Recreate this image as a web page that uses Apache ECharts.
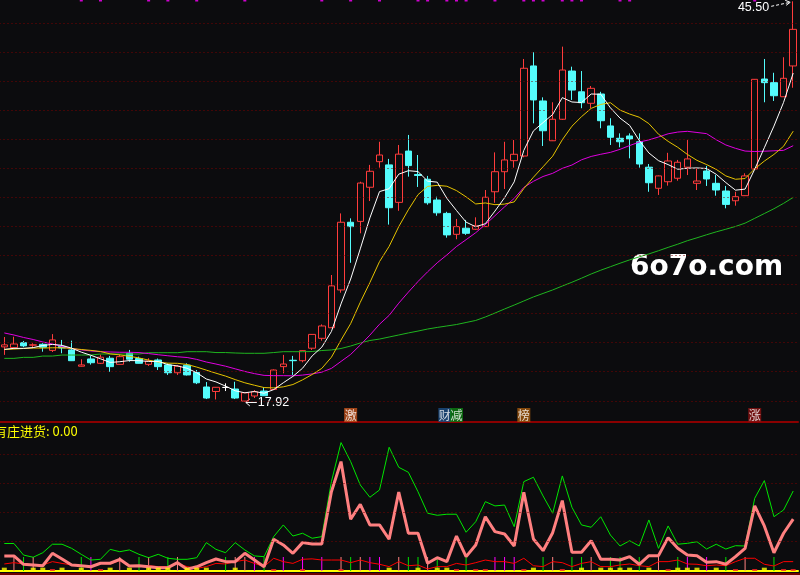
<!DOCTYPE html>
<html><head><meta charset="utf-8">
<script src="https://cdn.jsdelivr.net/npm/echarts/dist/echarts.min.js"></script>
<style>html,body{margin:0;padding:0;background:#0c0c0e;overflow:hidden}#c{width:800px;height:575px}</style>
</head><body><div id="c"></div>
<script>
// ---- data ----
// [open, close, low, high]
const kline = [
[21.71,21.85,21.16,22.39],[21.66,21.91,21.60,22.41],[22.00,21.78,21.69,22.12],[21.83,21.85,21.69,21.96],[21.89,21.69,21.38,21.96],
[21.47,22.19,21.36,22.59],[21.74,21.64,21.27,22.19],[21.50,20.76,20.74,22.14],[20.38,20.47,20.36,20.86],[20.88,20.62,20.49,21.09],
[20.58,21.00,20.53,21.18],[20.93,20.35,20.00,21.09],[20.51,21.04,20.50,21.20],[21.27,20.86,20.69,21.50],[20.91,20.58,20.57,21.04],
[20.51,20.74,20.40,20.93],[20.81,20.35,20.12,20.91],[20.47,19.93,19.78,20.58],[19.93,20.38,19.78,20.47],[20.45,19.78,19.74,20.58],
[19.95,19.24,19.15,20.12],[18.95,18.19,18.12,19.29],[18.64,18.93,18.09,18.95],[18.92,18.92,18.67,19.20],[18.81,18.19,18.12,19.31],
[17.98,18.55,17.92,18.60],[18.33,18.62,18.19,18.74],[18.67,18.35,18.33,18.93],[18.78,20.12,18.74,20.16],[20.35,20.53,19.89,21.16],
[20.79,20.76,19.78,21.09],[20.76,21.45,20.65,21.47],[21.62,22.57,21.50,22.59],[22.30,23.15,22.14,23.26],[23.03,25.91,23.01,26.66],
[25.63,30.29,25.44,30.90],[30.29,29.99,27.50,30.56],[30.35,32.99,29.53,33.08],[32.70,33.80,31.75,34.24],[34.46,34.92,34.05,35.83],
[34.24,31.29,30.13,34.65],[31.66,34.98,31.08,35.61],[35.19,34.19,33.43,36.30],[33.58,33.51,32.72,34.92],[33.25,31.63,31.50,33.48],
[31.82,30.94,30.74,32.05],[30.90,29.42,29.23,31.01],[29.46,29.99,29.12,30.52],[29.88,29.53,29.42,30.45],[29.81,30.04,29.76,30.63],
[29.99,32.01,29.97,32.51],[32.39,33.77,31.63,35.10],[33.77,34.58,32.58,35.83],[34.53,34.97,34.05,35.95],[34.85,40.89,34.76,41.53],
[41.05,38.71,37.10,41.99],[38.64,36.59,35.54,38.89],[35.90,37.38,35.88,38.55],[37.38,40.77,37.33,42.38],[40.70,39.39,38.71,41.00],
[39.27,38.52,38.14,40.70],[38.48,39.51,38.14,39.67],[39.12,37.28,36.76,39.27],[36.92,36.14,35.61,37.45],[36.07,35.83,35.45,36.41],
[36.23,36.02,34.69,36.41],[35.83,34.30,34.05,36.41],[34.08,33.01,32.39,34.30],[32.63,33.48,32.17,33.51],[33.08,34.51,32.81,35.07],
[33.32,34.42,33.15,34.58],[34.08,34.65,33.54,35.95],[32.97,33.13,32.51,34.00],[33.82,33.27,32.79,34.17],[32.97,32.51,32.12,33.54],
[32.44,31.52,31.25,32.79],[31.77,32.05,31.43,32.39],[32.12,33.48,32.10,33.66],[33.96,40.13,33.92,40.15],[40.15,39.90,38.55,41.53],
[39.90,39.00,38.64,40.58],[38.93,40.20,38.91,41.65],[41.05,43.57,39.55,45.50]
];
const ma5 = [21.54,21.61,21.61,21.66,21.81,21.88,21.82,21.62,21.35,21.13,20.89,20.64,20.69,20.77,20.76,20.71,20.71,20.49,20.40,20.24,
19.93,19.50,19.30,19.01,18.69,18.55,18.64,18.52,18.77,19.24,19.68,20.24,21.09,21.69,22.77,24.67,26.38,28.46,30.59,32.40,
32.60,33.60,33.84,33.78,33.12,33.05,31.94,31.10,30.30,29.98,30.19,31.06,31.98,33.07,35.24,36.58,37.15,37.71,38.87,38.57,
38.53,39.12,39.10,38.17,37.46,36.96,35.92,35.06,34.53,34.26,33.94,34.01,34.03,33.99,33.59,33.02,32.50,32.57,33.94,35.42,
36.91,38.54,40.56];
const ma10 = [21.53,21.56,21.60,21.63,21.63,21.65,21.65,21.60,21.53,21.47,21.39,21.23,21.16,21.06,20.95,20.80,20.67,20.59,20.58,20.50,
20.32,20.11,19.90,19.70,19.46,19.24,19.07,18.91,18.89,18.96,19.12,19.44,19.81,20.23,21.00,22.18,23.31,24.78,26.14,27.58,
28.63,29.99,31.15,32.19,32.76,32.83,32.77,32.47,32.04,31.55,31.62,31.50,31.54,31.69,32.61,33.39,34.11,34.84,35.97,36.90,
37.56,38.13,38.40,38.52,38.01,37.74,37.52,37.08,36.35,35.86,35.45,34.96,34.55,34.26,33.93,33.48,33.25,33.30,33.97,34.50,
34.96,35.52,36.56];
const ma20 = [22.67,22.53,22.36,22.22,22.05,21.91,21.74,21.60,21.50,21.43,21.38,21.36,21.34,21.34,21.32,21.25,21.17,21.10,21.03,20.98,
20.85,20.67,20.53,20.38,20.20,20.02,19.87,19.75,19.73,19.73,19.72,19.77,19.85,19.97,20.23,20.71,21.19,21.84,22.52,23.27,
23.88,24.72,25.48,26.21,26.88,27.50,28.04,28.62,29.09,29.57,30.13,30.74,31.35,31.93,32.69,33.11,33.44,33.66,34.00,34.23,
34.59,34.82,34.97,35.10,35.31,35.57,35.81,35.96,36.16,36.38,36.50,36.55,36.47,36.39,35.97,35.61,35.38,35.19,35.16,35.18,
35.21,35.24,35.56];
const ma60 = [20.92,20.92,20.99,20.99,21.08,21.08,21.15,21.15,21.15,21.15,21.22,21.22,21.22,21.22,21.22,21.31,21.31,21.31,21.31,21.38,
21.38,21.38,21.32,21.32,21.29,21.27,21.27,21.27,21.32,21.38,21.38,21.38,21.39,21.46,21.50,21.60,21.77,21.98,22.15,22.25,
22.39,22.53,22.67,22.80,22.94,23.05,23.15,23.25,23.39,23.53,23.77,24.04,24.32,24.59,24.87,25.15,25.39,25.63,25.90,26.16,
26.44,26.73,26.99,27.23,27.47,27.70,27.91,28.11,28.33,28.56,28.78,29.02,29.22,29.43,29.63,29.81,30.00,30.23,30.56,30.89,
31.22,31.59,32.00];
// lower indicator pane
const indGreen = [18.8,18.8,10.9,9.4,12.5,18.3,18.3,15.5,11.4,7.5,8.0,14.8,13.2,14.4,11.4,9.1,11.4,8.7,8.0,8.0,
9.1,19.4,14.8,12.5,19.4,14.4,10.3,9.8,23.5,31.5,23.9,25.8,22.4,23.5,61.1,87.8,74.8,58.8,50.4,55.4,
84.6,70.9,67.5,54.2,39.5,38.1,38.8,38.8,26.5,33.7,47.4,44.5,45.1,30.3,61.1,64.1,51.3,39.5,65.0,43.6,
31.5,29.9,37.1,24.6,17.1,20.7,17.1,34.9,15.5,30.8,18.3,18.9,20.0,15.0,18.3,15.0,17.3,17.1,49.7,61.8,
37.1,41.7,54.7];
const indPink = [10.3,10.3,4.6,4.1,3.6,12.1,8.2,4.1,3.6,2.9,5.3,5.3,8.0,3.4,3.6,2.9,2.3,2.3,5.7,1.2,
2.9,5.7,8.2,6.4,6.4,12.1,7.5,2.9,21.7,17.8,12.1,19.4,18.5,18.5,54.2,74.8,35.4,45.6,31.5,31.5,
21.7,54.0,25.8,25.8,5.3,9.1,6.4,23.9,9.8,17.8,37.1,26.9,25.3,17.1,53.8,21.9,13.9,26.2,48.1,12.8,
12.8,20.7,8.0,8.0,7.5,9.8,4.6,10.5,10.5,22.8,15.5,10.9,10.5,6.0,6.4,4.6,9.8,15.5,44.5,30.8,
12.5,25.8,35.4];
const indRed = [4.8,5.7,4.8,4.1,4.1,6.4,5.2,4.1,3.6,3.4,5.2,4.8,7.1,3.6,3.6,3.6,3.0,3.0,5.2,3.0,
1.8,3.0,5.2,4.8,6.4,7.5,5.2,3.0,8.7,6.4,5.2,8.0,8.3,7.5,7.5,7.5,5.7,7.5,5.7,4.6,
3.0,6.4,3.6,4.1,1.4,3.0,3.0,5.2,4.1,5.7,7.5,6.4,6.4,5.2,8.7,3.6,3.0,6.4,5.7,3.0,
5.2,6.4,3.0,3.0,4.1,4.8,3.6,3.0,6.4,6.4,7.5,4.8,4.6,3.6,4.1,3.6,6.4,8.7,8.7,4.6,
3.4,6.4,6.4];
// signal sticks (candle indices) by kind
const greenSignals = [2,8,14,17,23,27,36,42,43,45,48,56,59,60,63,64,66,70,75,80];
const pinkSignals = [1,3,12,15,18,24,25,35,37,41,44,57,61,68,77];
const magentaSignals = [9,26,29,31,33,38,39,51,52,53,71,73];
const signalHeight = 9.5;
const yellowMarks = [0,3,4,6,8,11,13,15,16,17,19,20,21,24,40,43,45,46,55,60,62,63,64,65,67,70,71,72,74,79];
const redMarks = [5,10,28,31,35,47,49,50,54,58,69,76,78,81,82];
const topMarks = [8,10,15,17,20,25,33,36,39,43,44,46,47,48,51,54,55,56,58,59,60,64,65,78];
const eventTags = [{i:36,t:'激'},{i:46,t:'财'},{i:47,t:'减'},{i:54,t:'榜'},{i:78,t:'涨'}];
const priceGridLevels = [18,20,22,24,26,28,30,32,34,36,38,40,42,44];
const indGridLevels = [20,40,60,80];
const indicatorName = '有庄进货';
const indicatorValue = 0.00;
const categories = kline.map((_, i) => 'K' + (i + 1));

// ---- styles ----
const BG = '#0c0c0e', UP = '#ff3c3c', DOWN = '#54fcfc';
const PRICE_MIN = 16.54, PRICE_MAX = 45.59, IND_MAX = 100.5;
const tagColors = {'激':'#c4521c','财':'#1b4f86','减':'#0b7d12','榜':'#a3570c','涨':'#8a1111'};
const tagOffset = {'财':-2};

const chart = echarts.init(document.getElementById('c'), null, {renderer:'canvas', width:800, height:575});

function sig(list, color) {
  return list.map(i => ({ value: [i, signalHeight], itemStyle: { color } }));
}
const lineBase = { type:'line', showSymbol:false, symbol:'none', silent:true, emphasis:{disabled:true}, z:3 };
const cat = (gi) => ({
  type:'category', data:categories, gridIndex:gi, boundaryGap:true,
  axisTick:{show:false}, axisLabel:{show:false}, splitLine:{show:false}
});

const option = {
  backgroundColor: BG,
  animation: false,
  grid: [
    {left:-0.5, right:2, top:0, height:422, outerBoundsMode:'none'},
    {left:-0.5, right:2, top:424, height:147, outerBoundsMode:'none'}
  ],
  xAxis: [
    Object.assign(cat(0), {axisLine:{show:true, onZero:false, lineStyle:{color:'#8b0000', width:2}}}),
    Object.assign(cat(1), {axisLine:{show:true, onZero:false, lineStyle:{color:'#ffff00', width:2}}}),
    Object.assign(cat(1), {show:false})
  ],
  yAxis: [
    {type:'value', gridIndex:0, min:PRICE_MIN, max:PRICE_MAX, show:false, splitLine:{show:false}},
    {type:'value', gridIndex:1, min:0, max:IND_MAX, show:false, splitLine:{show:false}}
  ],
  series: [
    {
      type:'candlestick', xAxisIndex:0, yAxisIndex:0, data:kline, barWidth:7, silent:true, z:2,
      itemStyle:{color:'rgba(0,0,0,0)', color0:DOWN, borderColor:UP, borderColor0:DOWN, borderColorDoji:'#ffffff', borderWidth:1},
      emphasis:{disabled:true},
      markLine:{silent:true, symbol:['none','none'], label:{show:false}, animation:false,
        lineStyle:{color:'#7a0000', type:[1,3], width:1},
        data: priceGridLevels.map(v => ({yAxis:v}))}
    },
    Object.assign({}, lineBase, {name:'MA60', xAxisIndex:0, yAxisIndex:0, data:ma60, lineStyle:{color:'#1fb51f', width:1}}),
    Object.assign({}, lineBase, {name:'MA20', xAxisIndex:0, yAxisIndex:0, data:ma20, lineStyle:{color:'#e000e0', width:1}}),
    Object.assign({}, lineBase, {name:'MA10', xAxisIndex:0, yAxisIndex:0, data:ma10, lineStyle:{color:'#e6c300', width:1}}),
    Object.assign({}, lineBase, {name:'MA5', xAxisIndex:0, yAxisIndex:0, data:ma5, lineStyle:{color:'#ffffff', width:1}}),
    {
      type:'scatter', xAxisIndex:0, yAxisIndex:0, symbolSize:0, silent:true, z:6,
      data: eventTags.map(t => ({
        value:[t.i, PRICE_MIN],
        label:{show:true, position:'top', distance:0, formatter:t.t, color:'#ffffff', fontSize:12,
          fontFamily:'Noto Sans CJK SC', backgroundColor:tagColors[t.t], width:13, height:14, lineHeight:14,
          align:'center', padding:0, offset:[tagOffset[t.t] || 0, 0]}
      }))
    },
    {
      type:'scatter', xAxisIndex:0, yAxisIndex:0, symbol:'rect', symbolSize:[3,3], silent:true, z:6,
      itemStyle:{color:'#ff00ff'}, data: topMarks.map(i => [i, PRICE_MAX])
    },
    // lower pane
    {
      type:'bar', xAxisIndex:2, yAxisIndex:1, barWidth:1, silent:true, z:2,
      data: [].concat(sig(greenSignals,'#00e000'), sig(pinkSignals,'#ff8080'), sig(magentaSignals,'#ff00ff'))
    },
    Object.assign({}, lineBase, {name:'G', xAxisIndex:1, yAxisIndex:1, data:indGreen, lineStyle:{color:'#00e600', width:1},
      markLine:{silent:true, symbol:['none','none'], label:{show:false}, animation:false,
        lineStyle:{color:'#7a0000', type:[1,3], width:1}, data: indGridLevels.map(v => ({yAxis:v}))}}),
    Object.assign({}, lineBase, {name:'R', xAxisIndex:1, yAxisIndex:1, data:indRed, lineStyle:{color:'#ff0000', width:1}}),
    Object.assign({}, lineBase, {name:'P', xAxisIndex:1, yAxisIndex:1, data:indPink, lineStyle:{color:'#ff8080', width:3}}),
    {
      type:'scatter', xAxisIndex:1, yAxisIndex:1, symbol:'rect', symbolSize:[5,3.3], silent:true, z:6,
      itemStyle:{color:'#ffff00'}, data: yellowMarks.map(i => [i, 1.15])
    },
    {
      type:'scatter', xAxisIndex:1, yAxisIndex:1, symbol:'rect', symbolSize:[5,2], silent:true, z:6,
      itemStyle:{color:'#ff2020'}, data: redMarks.map(i => [i, 0.7])
    }
  ]
};
// bar series: one slot per category, filled where a signal exists
(function(){
  const s = option.series[7];
  const full = categories.map(() => '-');
  s.data.forEach(d => { full[d.value[0]] = {value:d.value[1], itemStyle:d.itemStyle}; });
  s.data = full;
})();
chart.setOption(option);

// annotations for highest high and lowest low
let hiI = 0, loI = 0;
kline.forEach((k, i) => { if (k[3] > kline[hiI][3]) hiI = i; if (k[2] < kline[loI][2]) loI = i; });
const ph = chart.convertToPixel({gridIndex:0}, [hiI, kline[hiI][3]]);
const pl = chart.convertToPixel({gridIndex:0}, [loI, kline[loI][2]]);
const txtFont = '12.5px "Liberation Sans", Arial, sans-serif';
chart.setOption({
  graphic: [
    {type:'rect', shape:{x:0, y:573, width:800, height:2}, style:{fill:'#6e0000'}, silent:true},
    {type:'text', left:-6, top:425, silent:true,
      style:{text: indicatorName + ': ' + indicatorValue.toFixed(2), fill:'#ffff00', font:'13px "Noto Sans CJK SC", sans-serif'}},
    {type:'text', left:630, top:254, silent:true,
      style:{text:'6o7o.com', fill:'#ffffff', font:'bold 28px "DejaVu Sans", sans-serif'}},
    {type:'text', x:ph[0]-24, y:ph[1]+6, silent:true,
      style:{text: kline[hiI][3].toFixed(2), fill:'#ffffff', font:txtFont, textAlign:'right', textVerticalAlign:'middle'}},
    {type:'line', silent:true, shape:{x1:ph[0]-22, y1:ph[1]+5, x2:ph[0]-3, y2:ph[1]+1}, style:{stroke:'#ffffff', lineWidth:1, lineDash:[3,2]}},
    {type:'polyline', silent:true, shape:{points:[[ph[0]-8, ph[1]-1],[ph[0]-3, ph[1]+1],[ph[0]-7, ph[1]+4]]}, style:{stroke:'#ffffff', lineWidth:1, fill:null}},
    {type:'line', silent:true, shape:{x1:pl[0]+1, y1:pl[1]+0.5, x2:pl[0]+12, y2:pl[1]+0.5}, style:{stroke:'#ffffff', lineWidth:1}},
    {type:'polyline', silent:true, shape:{points:[[pl[0]+5, pl[1]-3],[pl[0]+1, pl[1]+0.5],[pl[0]+5, pl[1]+4]]}, style:{stroke:'#ffffff', lineWidth:1, fill:null}},
    {type:'text', x:pl[0]+13, y:pl[1]+1, silent:true,
      style:{text: kline[loI][2].toFixed(2), fill:'#ffffff', font:txtFont, textAlign:'left', textVerticalAlign:'middle'}}
  ]
});
</script>
</body></html>
